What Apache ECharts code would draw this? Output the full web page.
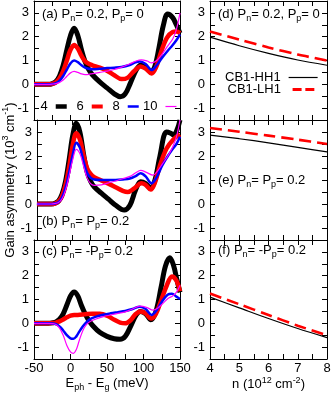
<!DOCTYPE html>
<html><head><meta charset="utf-8">
<script src="https://cdn.jsdelivr.net/npm/echarts@6/dist/echarts.min.js"></script>
<style>html,body{margin:0;padding:0;background:#fff}#c{width:334px;height:393px}</style>
</head><body><div id="c"></div><script>
// ---------- data ----------
const seriesNames = ['4','6','8','10'];
// panel (a) Pn=0.2, Pp=0 : [E_ph - E_g (meV), gain asymmetry]
const a_n4 = [[-50,0],[-30,0],[-25,0.03],[-20,0.12],[-15,0.35],[-10,0.8],[-5,1.45],[0,2.05],[5,2.35],[10,2.05],[15,1.45],[20,0.95],[25,0.62],[30,0.4],[40,0.1],[50,-0.15],[60,-0.4],[68,-0.52],[75,-0.4],[82,0.05],[90,0.6],[96,0.8],[103,0.72],[110,0.52],[115,0.7],[121,1.5],[127,2.45],[133,2.95],[140,2.8],[145,2.5],[150,2.15]];
const a_n6 = [[-50,0],[-30,0],[-25,0.02],[-20,0.08],[-15,0.25],[-10,0.55],[-5,1.0],[0,1.45],[5,1.65],[10,1.5],[15,1.2],[20,0.97],[25,0.86],[30,0.8],[40,0.7],[50,0.57],[60,0.38],[70,0.22],[78,0.27],[87,0.55],[96,0.75],[103,0.66],[111,0.45],[117,0.7],[124,1.35],[132,1.95],[140,2.2],[145,2.22],[150,2.15]];
const a_n8 = [[-50,0],[-30,0],[-25,0.01],[-20,0.05],[-15,0.15],[-10,0.35],[-5,0.62],[0,0.88],[5,1.0],[10,0.93],[15,0.8],[20,0.7],[25,0.65],[30,0.63],[40,0.65],[50,0.68],[60,0.7],[70,0.73],[80,0.8],[89,0.92],[95,0.96],[103,0.85],[111,0.6],[118,0.8],[125,1.1],[133,1.4],[140,1.65],[145,1.85],[150,2.1]];
const a_n10 = [[-50,0],[-30,0],[-25,0.01],[-20,0.03],[-15,0.08],[-10,0.18],[-5,0.34],[0,0.48],[5,0.54],[10,0.5],[15,0.44],[20,0.41],[25,0.42],[30,0.45],[40,0.5],[50,0.55],[60,0.62],[70,0.72],[80,0.84],[90,0.98],[97,1.03],[105,0.98],[111,0.9],[118,1.0],[125,1.25],[133,1.6],[140,1.9],[145,2.3],[150,3.0]];
// panel (b) Pn=Pp=0.2
const b_n4 = [[-50,0],[-30,0],[-25,0.03],[-20,0.12],[-15,0.4],[-10,0.95],[-5,1.85],[0,2.85],[5,3.36],[10,3.0],[15,2.1],[20,1.35],[25,0.95],[30,0.72],[40,0.45],[50,0.2],[60,-0.05],[72,-0.25],[80,-0.05],[88,0.6],[95,0.93],[102,0.85],[109,0.65],[115,1.0],[122,2.0],[131,3.0],[137,2.95],[141,2.87],[146,3.1],[150,3.5]];
const b_n6 = [[-50,0],[-30,0],[-25,0.02],[-20,0.1],[-15,0.32],[-10,0.8],[-5,1.55],[0,2.45],[5,2.95],[10,2.7],[15,2.05],[20,1.5],[25,1.25],[30,1.12],[40,0.98],[50,0.85],[60,0.7],[70,0.55],[77,0.5],[86,0.65],[96,0.86],[102,0.8],[109,0.6],[115,0.9],[122,1.6],[131,2.3],[141,2.7],[150,2.9]];
const b_n8 = [[-50,0],[-30,0],[-25,0.02],[-20,0.07],[-15,0.27],[-10,0.68],[-5,1.32],[0,2.05],[5,2.55],[10,2.35],[15,1.8],[20,1.3],[25,1.1],[30,1.02],[40,1.0],[50,1.0],[60,1.0],[70,1.02],[80,1.06],[88,1.16],[95,1.28],[102,1.15],[110,0.86],[117,1.1],[125,1.6],[133,2.0],[140,2.3],[145,2.5],[150,2.8]];
const b_n10 = [[-50,0],[-30,0],[-25,0.02],[-20,0.06],[-15,0.22],[-10,0.58],[-5,1.18],[0,1.85],[5,2.28],[10,2.1],[15,1.6],[20,1.1],[25,0.85],[30,0.78],[40,0.8],[50,0.88],[60,0.96],[70,1.05],[80,1.15],[88,1.3],[95,1.4],[103,1.32],[112,1.2],[118,1.35],[125,1.65],[133,2.0],[140,2.4],[145,2.8],[150,3.5]];
// panel (c) Pn=-Pp=0.2
const c_n4 = [[-50,0],[-30,0],[-25,0.02],[-20,0.06],[-15,0.17],[-10,0.4],[-5,0.77],[0,1.15],[5,1.32],[10,1.15],[15,0.75],[20,0.4],[25,0.12],[30,-0.08],[40,-0.38],[50,-0.55],[60,-0.65],[68,-0.67],[75,-0.55],[82,-0.15],[90,0.35],[96,0.5],[103,0.4],[110,0.15],[117,0.5],[124,1.5],[130,2.4],[136,2.75],[141,2.45],[146,1.8],[150,1.3]];
const c_n6 = [[-50,0],[-30,0],[-25,0.01],[-20,0.03],[-15,0.08],[-10,0.16],[-5,0.25],[0,0.32],[5,0.35],[10,0.35],[20,0.38],[30,0.4],[40,0.4],[50,0.32],[60,0.15],[68,0.03],[75,0.0],[82,0.12],[89,0.38],[96,0.5],[103,0.42],[110,0.2],[117,0.4],[124,0.95],[132,1.6],[139,1.97],[145,1.8],[150,1.35]];
const c_n8 = [[-50,0],[-30,0],[-25,-0.01],[-20,-0.04],[-15,-0.13],[-10,-0.3],[-5,-0.5],[0,-0.63],[4,-0.65],[8,-0.55],[12,-0.35],[17,-0.12],[22,0.05],[27,0.18],[35,0.28],[45,0.36],[55,0.42],[65,0.47],[75,0.52],[85,0.6],[95,0.7],[103,0.6],[111,0.35],[118,0.55],[125,0.9],[133,1.2],[139,1.24],[145,1.12],[150,1.02]];
const c_n10 = [[-50,0],[-30,0],[-25,-0.01],[-20,-0.05],[-15,-0.2],[-10,-0.5],[-5,-0.93],[0,-1.2],[4,-1.26],[8,-1.1],[12,-0.72],[17,-0.3],[22,-0.05],[27,0.08],[35,0.18],[45,0.28],[55,0.35],[65,0.42],[75,0.48],[85,0.6],[95,0.72],[105,0.66],[113,0.55],[120,0.65],[127,0.85],[134,1.05],[140,1.15],[145,1.3],[150,1.6]];
// right panels: n (10^12 cm^-2)
const nDensity = [4,5,6,7,8];
const d_HH1 = [1.98,1.62,1.3,1.02,0.8];
const d_LH1 = [2.22,1.88,1.55,1.25,1.0];
const e_HH1 = [2.87,2.72,2.55,2.36,2.17];
const e_LH1 = [3.17,3.01,2.85,2.68,2.5];
const f_HH1 = [1.1,0.65,0.2,-0.22,-0.6];
const f_LH1 = [1.25,0.8,0.35,-0.1,-0.5];
const yTicks = {min:-1.5, max:3.5, step:0.5};
const xLeftTicks = {min:-50, max:150, step:25, labelStep:50};
const xRightTicks = {min:4, max:8, step:0.5};

// ---------- build ----------
const FONT = '"Liberation Sans", Arial, Helvetica, sans-serif';
const rich = {
  n:{fontSize:13, lineHeight:18, fontFamily:FONT, color:'#000', fontWeight:'normal'},
  sub:{fontSize:9, lineHeight:8, verticalAlign:'bottom', fontFamily:FONT, color:'#000', fontWeight:'normal'},
  sup:{fontSize:9, lineHeight:8, verticalAlign:'top', fontFamily:FONT, color:'#000', fontWeight:'normal'}
};
const colors = ['#000000','#ff0000','#0000ff','#ff00ff'];
const widths = [5,4.5,2.5,1.2];
const L = {left:34, width:146}, R = {left:210, width:117};
const tops = [1,120,240], hs = [119,120,119];
const grid = [], xAxis = [], yAxis = [], series = [];
for (let i=0;i<6;i++){
  const isLeft = i<3, r = i%3;
  const g = isLeft?L:R;
  grid.push({left:g.left, width:g.width, top:tops[r], height:hs[r], show:false});
  const xt = isLeft?xLeftTicks:xRightTicks;
  const lbl = (v)=> isLeft ? (v%xt.labelStep===0?String(v):'') : (Number.isInteger(v)?String(v):'');
  const common = {type:'value', gridIndex:i, min:xt.min, max:xt.max, interval:xt.step,
    axisLine:{show:true,onZero:false,lineStyle:{color:'#000',width:1}},
    axisTick:{show:true,inside:true,length:5,lineStyle:{color:'#000',width:1}},
    splitLine:{show:false}};
  const bottom = Object.assign({}, common, {position:'bottom',
    axisLabel:{show:r===2, formatter:lbl, fontSize:13, fontFamily:FONT, color:'#000', margin:3, showMinLabel:true, showMaxLabel:true}});
  if (r===2){
    bottom.name = isLeft ? '{n|E}{sub|ph}{n| - E}{sub|g}{n| (meV)}' : '{n|n (10}{sup|12}{n| cm}{sup|-2}{n|)}';
    bottom.nameLocation='middle'; bottom.nameGap=15;
    bottom.nameTextStyle={rich:rich};
  }
  xAxis.push(bottom);
  xAxis.push(Object.assign({}, common, {position:'top', axisLabel:{show:false}}));
  const yc = {type:'value', gridIndex:i, min:yTicks.min, max:yTicks.max, interval:yTicks.step,
    axisLine:{show:true,onZero:false,lineStyle:{color:'#000',width:1}},
    axisTick:{show:true,inside:true,length:5,lineStyle:{color:'#000',width:1}},
    splitLine:{show:false}};
  const yl = Object.assign({}, yc, {position:'left',
    axisLabel:{show:true, formatter:(v)=>Number.isInteger(v)?String(v):'', fontSize:13, fontFamily:FONT, color:'#000', margin:5, showMinLabel:true, showMaxLabel:true}});
  if (i===1){
    yl.name='{n|Gain asymmetry (10}{sup|3}{n| cm}{sup|-1}{n|)}';
    yl.nameLocation='middle'; yl.nameGap=15; yl.nameTextStyle={rich:rich};
  }
  yAxis.push(yl);
  yAxis.push(Object.assign({}, yc, {position:'right', axisLabel:{show:false}}));
}
const leftData = [[a_n4,a_n6,a_n8,a_n10],[b_n4,b_n6,b_n8,b_n10],[c_n4,c_n6,c_n8,c_n10]];
leftData.forEach((set,p)=>{
  set.forEach((d,k)=>{
    series.push({type:'line', name:seriesNames[k], data:d, xAxisIndex:2*p, yAxisIndex:2*p,
      symbol:'none', showSymbol:false, smooth:0.35, animation:false,
      lineStyle:{color:colors[k], width:widths[k]}, itemStyle:{color:colors[k]}});
  });
});
const rightData = [[d_HH1,d_LH1],[e_HH1,e_LH1],[f_HH1,f_LH1]];
rightData.forEach((pair,p)=>{
  const gi = 3+p;
  series.push({type:'line', name:'CB1-HH1', data:nDensity.map((n,j)=>[n,pair[0][j]]), xAxisIndex:2*gi, yAxisIndex:2*gi,
    symbol:'none', showSymbol:false, smooth:0.3, animation:false,
    lineStyle:{color:'#000', width:1.2}, itemStyle:{color:'#000'}});
  series.push({type:'line', name:'CB1-LH1', data:nDensity.map((n,j)=>[n,pair[1][j]]), xAxisIndex:2*gi, yAxisIndex:2*gi,
    symbol:'none', showSymbol:false, smooth:0.3, animation:false,
    lineStyle:{color:'#ff0000', width:2.6, type:[12,6]}, itemStyle:{color:'#ff0000'}});
});
const panelText = [
  ['{n|(a) P}{sub|n}{n|= 0.2, P}{sub|p}{n|= 0}', 42, 5],
  ['{n|(b) P}{sub|n}{n|= P}{sub|p}{n|= 0.2}', 42, 212],
  ['{n|(c) P}{sub|n}{n|= -P}{sub|p}{n|= 0.2}', 42, 242],
  ['{n|(d) P}{sub|n}{n|= 0.2, P}{sub|p}{n|= 0}', 218, 5],
  ['{n|(e) P}{sub|n}{n|= P}{sub|p}{n|= 0.2}', 218, 171],
  ['{n|(f) P}{sub|n}{n|= -P}{sub|p}{n|= 0.2}', 218, 241]
];
const title = panelText.map(t=>({text:t[0], left:t[1], top:t[2], padding:0, textStyle:{fontWeight:'normal', rich:rich}}));
const legTxt = {fontSize:13, fontFamily:FONT, color:'#000', padding:[0,3,0,0]};
const iconStyle = (c)=>({color:c, opacity:1, borderWidth:0, borderColor:c, borderType:'solid', decal:'none', shadowBlur:0});
const legendPos = [[40.5,'4',4.5],[76.5,'6',4],[112.5,'8',2.5],[143,'10',1.2]];
const legend = legendPos.map((lp,k)=>({left:lp[0], top:100, padding:0, align:'right', itemWidth:11, itemHeight:lp[2],
  selectedMode:false, textStyle:legTxt, icon:'rect', itemStyle:iconStyle(colors[k]),
  data:[{name:lp[1], icon:'rect', itemStyle:iconStyle(colors[k])}]}));
legend.push({left:225, top:71, padding:0, align:'right', itemWidth:29, itemHeight:1.2, selectedMode:false, textStyle:legTxt,
  icon:'rect', itemStyle:iconStyle('#000'),
  data:[{name:'CB1-HH1', icon:'rect', itemStyle:iconStyle('#000')}]});
legend.push({left:227.5, top:83, padding:0, align:'right', itemWidth:29, itemHeight:3, selectedMode:false, textStyle:legTxt,
  itemStyle:iconStyle('#ff0000'),
  data:[{name:'CB1-LH1', icon:'path://M0,0H12V4H0Z M17,0H29V4H17Z', itemStyle:iconStyle('#ff0000')}]});

const chart = echarts.init(document.getElementById('c'), null, {renderer:'canvas'});
chart.setOption({animation:false, backgroundColor:'#fff', title, legend, grid, xAxis, yAxis, series});
</script></body></html>
